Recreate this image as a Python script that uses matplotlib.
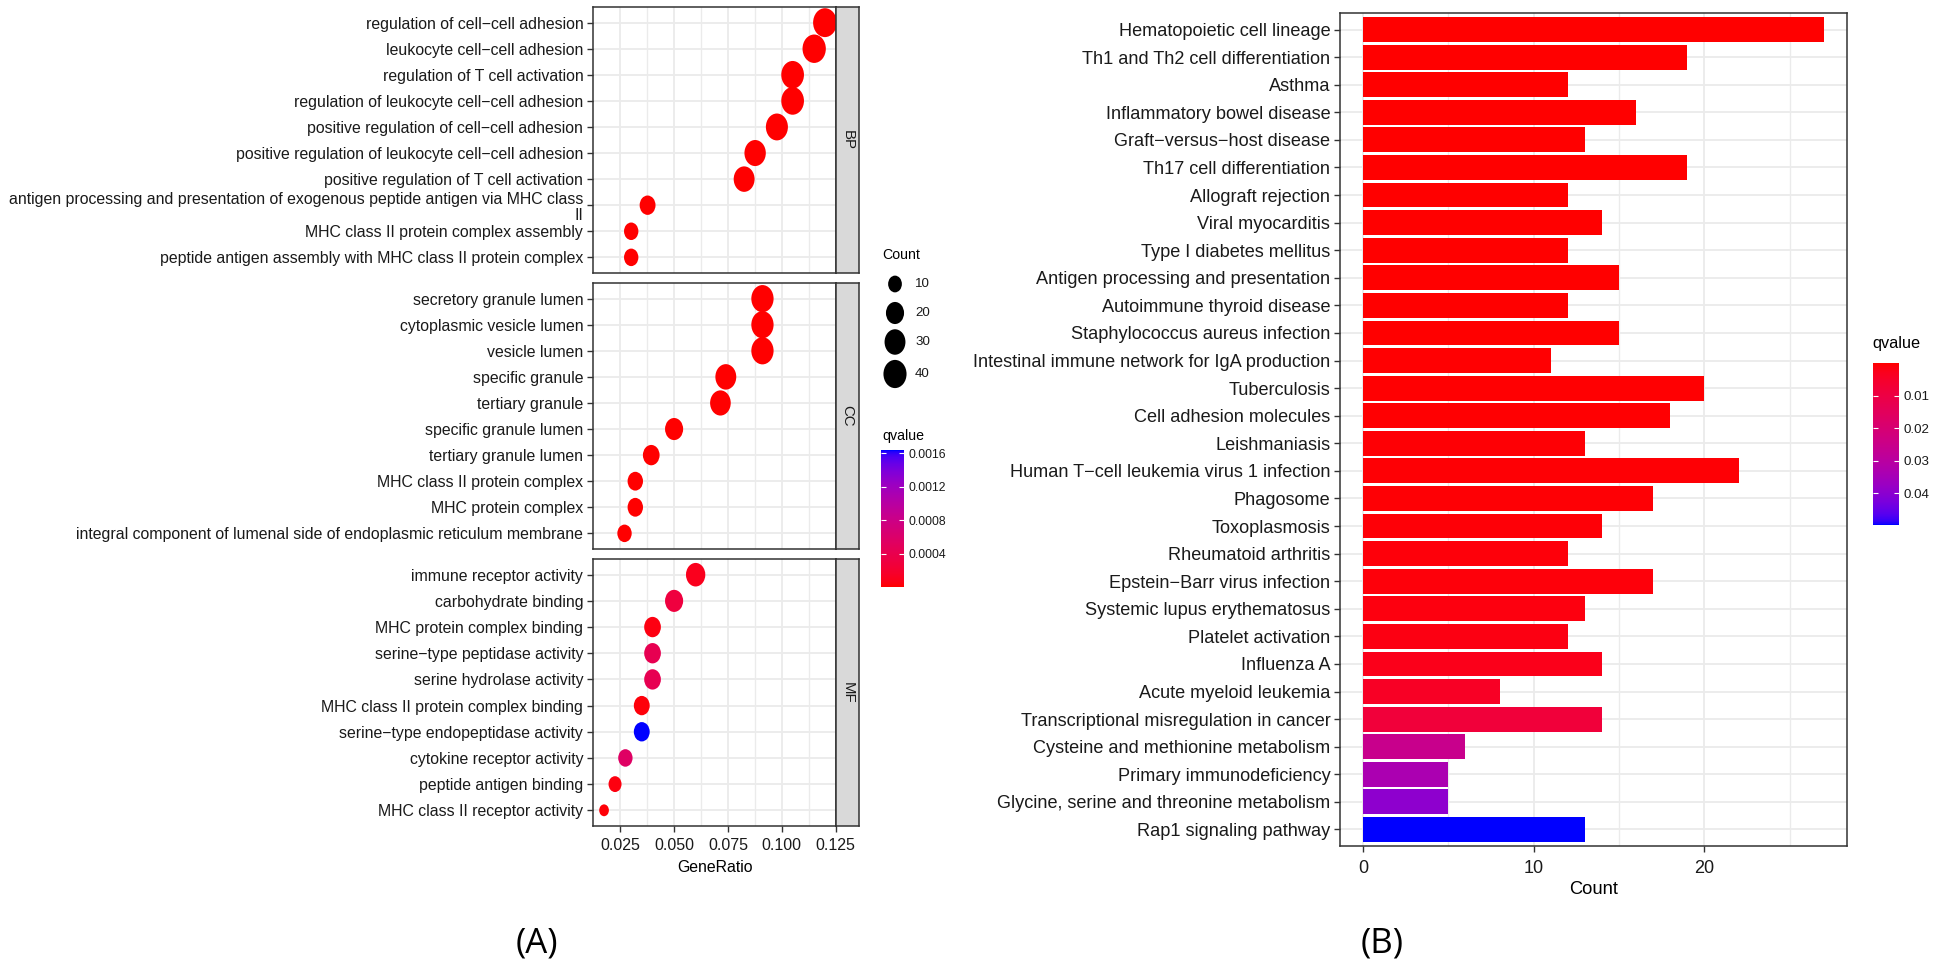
import numpy as np
import matplotlib
matplotlib.use("Agg")
import matplotlib.pyplot as plt
from matplotlib import font_manager
from matplotlib.path import Path
from matplotlib.markers import MarkerStyle
from matplotlib.transforms import Affine2D
from matplotlib.colors import ListedColormap, Normalize

# the source figure is squeezed sideways, a narrow face gets closer to it
_names = {f.name for f in font_manager.fontManager.ttflist}
if 'Liberation Sans Narrow' in _names:
    FAM, K = 'Liberation Sans Narrow', 1 / 0.82
else:
    FAM, K = 'Liberation Sans', 1.0
plt.rcParams['font.family'] = [FAM, 'DejaVu Sans']

# ---------------- panel A: GO dot plot ----------------
bp_terms = ["regulation of cell\u2212cell adhesion",
            "leukocyte cell\u2212cell adhesion",
            "regulation of T cell activation",
            "regulation of leukocyte cell\u2212cell adhesion",
            "positive regulation of cell\u2212cell adhesion",
            "positive regulation of leukocyte cell\u2212cell adhesion",
            "positive regulation of T cell activation",
            "antigen processing and presentation of exogenous peptide antigen via MHC class\nII",
            "MHC class II protein complex assembly",
            "peptide antigen assembly with MHC class II protein complex"]
bp_ratio = [0.120, 0.115, 0.105, 0.105, 0.0977, 0.0876, 0.0825, 0.0377, 0.0301, 0.0301]
bp_count = [43, 41, 38, 38, 35, 32, 30, 14, 11, 11]
bp_q = [1e-9, 1e-9, 2e-9, 2e-9, 5e-9, 1e-8, 2e-8, 1e-6, 2e-6, 2e-6]

cc_terms = ["secretory granule lumen",
            "cytoplasmic vesicle lumen",
            "vesicle lumen",
            "specific granule",
            "tertiary granule",
            "specific granule lumen",
            "tertiary granule lumen",
            "MHC class II protein complex",
            "MHC protein complex",
            "integral component of lumenal side of endoplasmic reticulum membrane"]
cc_ratio = [0.091, 0.091, 0.091, 0.074, 0.0715, 0.050, 0.0394, 0.032, 0.032, 0.027]
cc_count = [36, 36, 36, 30, 29, 20, 16, 13, 13, 11]
cc_q = [1e-9, 1e-9, 1e-9, 1e-8, 1e-8, 1e-6, 2e-6, 1e-6, 2e-6, 5e-6]

mf_terms = ["immune receptor activity",
            "carbohydrate binding",
            "MHC protein complex binding",
            "serine\u2212type peptidase activity",
            "serine hydrolase activity",
            "MHC class II protein complex binding",
            "serine\u2212type endopeptidase activity",
            "cytokine receptor activity",
            "peptide antigen binding",
            "MHC class II receptor activity"]
mf_ratio = [0.060, 0.050, 0.040, 0.040, 0.040, 0.035, 0.035, 0.0274, 0.0226, 0.0175]
mf_count = [24, 20, 16, 16, 16, 14, 14, 11, 9, 7]
mf_q = [0.0001, 0.0003, 0.00005, 0.00042, 0.00042, 0.00003, 0.00164, 0.00055, 0.00004, 0.00002]

ontologies = ["BP", "CC", "MF"]
legend_counts = [10, 20, 30, 40]
qa_ticks = [0.0004, 0.0008, 0.0012, 0.0016]
ratio_ticks = [0.025, 0.050, 0.075, 0.100, 0.125]

# ---------------- panel B: KEGG bar plot ----------------
kegg_terms = ["Hematopoietic cell lineage", "Th1 and Th2 cell differentiation", "Asthma",
              "Inflammatory bowel disease", "Graft\u2212versus\u2212host disease",
              "Th17 cell differentiation", "Allograft rejection", "Viral myocarditis",
              "Type I diabetes mellitus", "Antigen processing and presentation",
              "Autoimmune thyroid disease", "Staphylococcus aureus infection",
              "Intestinal immune network for IgA production", "Tuberculosis",
              "Cell adhesion molecules", "Leishmaniasis",
              "Human T\u2212cell leukemia virus 1 infection", "Phagosome", "Toxoplasmosis",
              "Rheumatoid arthritis", "Epstein\u2212Barr virus infection",
              "Systemic lupus erythematosus", "Platelet activation", "Influenza A",
              "Acute myeloid leukemia", "Transcriptional misregulation in cancer",
              "Cysteine and methionine metabolism", "Primary immunodeficiency",
              "Glycine, serine and threonine metabolism", "Rap1 signaling pathway"]
kegg_count = [27, 19, 12, 16, 13, 19, 12, 14, 12, 15, 12, 15, 11, 20, 18, 13, 22,
              17, 14, 12, 17, 13, 12, 14, 8, 14, 6, 5, 5, 13]
kegg_q = [1e-6, 2e-6, 5e-6, 1e-5, 1e-5, 2e-5, 3e-5, 5e-5, 6e-5, 8e-5, 1e-4, 1.5e-4,
          2e-4, 2.5e-4, 3e-4, 4e-4, 4e-4, 5e-4, 6e-4, 8e-4, 9e-4, 1.2e-3, 1.6e-3,
          2.6e-3, 4.2e-3, 8e-3, 0.0255, 0.0335, 0.0395, 0.0498]
qb_ticks = [0.01, 0.02, 0.03, 0.04]
count_ticks = [0, 10, 20]


# red -> blue ramp interpolated in CIELAB (like ggplot's gradient)
M = np.array([[0.4124, 0.3576, 0.1805], [0.2126, 0.7152, 0.0722], [0.0193, 0.1192, 0.9505]])
WHITE = np.array([0.95047, 1.0, 1.08883])


def to_lab(rgb):
    rgb = np.asarray(rgb, float)
    lin = np.where(rgb <= 0.04045, rgb / 12.92, ((rgb + 0.055) / 1.055) ** 2.4)
    xyz = M @ lin / WHITE
    f = np.where(xyz > 0.008856, np.cbrt(xyz), 7.787 * xyz + 16 / 116)
    return np.array([116 * f[1] - 16, 500 * (f[0] - f[1]), 200 * (f[1] - f[2])])


def from_lab(lab):
    L, a, b = lab
    fy = (L + 16) / 116
    f = np.stack([fy + a / 500, fy, fy - b / 200])
    xyz = np.where(f > 0.2069, f ** 3, (f - 16 / 116) / 7.787) * WHITE[:, None]
    lin = np.clip(np.linalg.inv(M) @ xyz, 0, 1)
    rgb = np.where(lin <= 0.0031308, 12.92 * lin, 1.055 * lin ** (1 / 2.4) - 0.055)
    return np.clip(rgb.T, 0, 1)


t = np.linspace(0, 1, 256)
lab_r, lab_b = to_lab([1, 0, 0]), to_lab([0, 0, 1])
ramp = from_lab(lab_r[:, None] * (1 - t) + lab_b[:, None] * t)
cmap = ListedColormap(ramp)

W, H = 1944, 965
fig = plt.figure(figsize=(W / 100, H / 100), dpi=100)


def box(x0, y0, x1, y1):
    return [x0 / W, 1 - y1 / H, (x1 - x0) / W, (y1 - y0) / H]


# ellipse marker (the source image is stretched vertically)
ellipse = MarkerStyle(Path.unit_circle().transformed(Affine2D().scale(1 / 1.22, 1)))
all_counts = bp_count + cc_count + mf_count
cmin, cmax = min(all_counts), max(all_counts)


def marker_area(c):
    c = np.asarray(c, float)
    w = 9.7 + 14.0 * np.sqrt((c - cmin) / (cmax - cmin))
    h = w * 1.22
    return (h * 0.72) ** 2


all_q = bp_q + cc_q + mf_q
norm_a = Normalize(min(all_q), max(all_q))
all_ratio = bp_ratio + cc_ratio + mf_ratio
rlo, rhi = min(all_ratio), max(all_ratio)
rpad = 0.05 * (rhi - rlo)
minor_r = [0.0375, 0.0625, 0.0875, 0.1125]

grid_col = '#EBEBEB'
edge_col = '#333333'
txt_col = '#1A1A1A'

panels = [(bp_terms, bp_ratio, bp_count, bp_q, 7, 273),
          (cc_terms, cc_ratio, cc_count, cc_q, 283, 549),
          (mf_terms, mf_ratio, mf_count, mf_q, 559, 826)]

for k, (terms, ratio, count, q, y0, y1) in enumerate(panels):
    ax = fig.add_axes(box(593, y0, 836, y1))
    yy = np.arange(len(terms))
    ax.scatter(ratio, yy, s=marker_area(count), c=q, cmap=cmap, norm=norm_a,
               marker=ellipse, linewidths=0, zorder=3)
    ax.set_xlim(rlo - rpad, rhi + rpad)
    ax.set_ylim(len(terms) - 0.4, -0.6)
    ax.set_yticks(yy)
    ax.set_yticklabels(terms, fontsize=11.4 * K, color=txt_col, linespacing=1.1)
    ax.set_xticks(ratio_ticks)
    ax.set_xticks(minor_r, minor=True)
    ax.grid(which='major', color=grid_col, lw=1.3, zorder=0)
    ax.grid(which='minor', axis='x', color=grid_col, lw=1.0, zorder=0)
    ax.set_axisbelow(True)
    for s in ax.spines.values():
        s.set_color(edge_col)
        s.set_linewidth(1.1)
    ax.tick_params(which='major', length=4, width=1, color=edge_col, pad=3)
    ax.tick_params(which='minor', length=0)
    if k < 2:
        ax.tick_params(axis='x', bottom=False, labelbottom=False)
    else:
        ax.tick_params(axis='x', pad=5)
        ax.set_xticklabels([f"{v:.3f}" for v in ratio_ticks], fontsize=11.5 * K, color=txt_col)
        ax.set_xlabel("GeneRatio", fontsize=11.4 * K, color='black', labelpad=5)

    sax = fig.add_axes(box(836, y0, 859, y1))
    sax.set_facecolor('#D9D9D9')
    sax.set_xticks([])
    sax.set_yticks([])
    for s in sax.spines.values():
        s.set_color(edge_col)
        s.set_linewidth(1.1)
    sax.text(0.5, 0.5, ontologies[k], rotation=-90, ha='center', va='center',
             fontsize=10.8, color='#1A1A1A', transform=sax.transAxes,
             family=['Liberation Sans', 'DejaVu Sans'])

# Count legend (size)
fig.text(882 / W, 1 - 255 / H, "Count", fontsize=10.2 * K, ha='left', va='center')
lax = fig.add_axes(box(870, 268, 960, 392))
lax.set_xlim(870, 960)
lax.set_ylim(392, 268)
lax.axis('off')
leg_y = [284, 313, 342, 374]
lax.scatter([895] * len(legend_counts), leg_y, s=marker_area(legend_counts),
            color='black', marker=ellipse, linewidths=0)
for c, yv in zip(legend_counts, leg_y):
    lax.text(915, yv, str(c), fontsize=9.6 * K, ha='left', va='center', color=txt_col)

# qvalue colour bar for A
fig.text(882 / W, 1 - 436 / H, "qvalue", fontsize=10.2 * K, ha='left', va='center')
cax_a = fig.add_axes(box(881, 450, 904, 587))
cb_a = fig.colorbar(plt.cm.ScalarMappable(norm=norm_a, cmap=cmap), cax=cax_a, ticks=qa_ticks)
cb_a.outline.set_visible(False)
cb_a.ax.set_yticklabels([f"{v:.4f}" for v in qa_ticks], fontsize=8.8 * K, color=txt_col)
cb_a.ax.tick_params(length=0, pad=3)
tr = cax_a.get_yaxis_transform()
cax_a.hlines(qa_ticks, 0, 0.2, colors='white', lw=0.8, transform=tr)
cax_a.hlines(qa_ticks, 0.8, 1, colors='white', lw=0.8, transform=tr)

# ---------------- panel B ----------------
axb = fig.add_axes(box(1340, 13, 1847, 846))
norm_b = Normalize(min(kegg_q), max(kegg_q))
yb = np.arange(len(kegg_terms))
axb.barh(yb, kegg_count, height=0.9, color=cmap(norm_b(np.array(kegg_q))), zorder=3)
cpad = 0.05 * max(kegg_count)
axb.set_xlim(-cpad, max(kegg_count) + cpad)
axb.set_ylim(len(kegg_terms) - 0.4, -0.6)
axb.set_yticks(yb)
axb.set_yticklabels(kegg_terms, fontsize=13.1 * K, color=txt_col)
axb.set_xticks(count_ticks)
axb.set_xticks([5, 15, 25], minor=True)
axb.set_xticklabels([str(v) for v in count_ticks], fontsize=13 * K, color=txt_col)
axb.grid(which='major', color=grid_col, lw=1.3, zorder=0)
axb.grid(which='minor', axis='x', color=grid_col, lw=1.0, zorder=0)
axb.set_axisbelow(True)
for s in axb.spines.values():
    s.set_color(edge_col)
    s.set_linewidth(1.1)
axb.tick_params(which='major', length=4, width=1, color=edge_col, pad=3)
axb.tick_params(axis='x', pad=6)
axb.tick_params(which='minor', length=0)
axb.set_xlabel("Count", fontsize=13.2 * K, color='black', labelpad=3)

fig.text(1872 / W, 1 - 343 / H, "qvalue", fontsize=11.7 * K, ha='left', va='center')
cax_b = fig.add_axes(box(1873, 363, 1899, 525))
cb_b = fig.colorbar(plt.cm.ScalarMappable(norm=norm_b, cmap=cmap), cax=cax_b, ticks=qb_ticks)
cb_b.outline.set_visible(False)
cax_b.invert_yaxis()
cb_b.ax.set_yticklabels([f"{v:.2f}" for v in qb_ticks], fontsize=9.6 * K, color=txt_col)
cb_b.ax.tick_params(length=0, pad=3)
trb = cax_b.get_yaxis_transform()
cax_b.hlines(qb_ticks, 0, 0.2, colors='white', lw=0.8, transform=trb)
cax_b.hlines(qb_ticks, 0.8, 1, colors='white', lw=0.8, transform=trb)

# panel letters
fig.text(537 / W, 1 - 943 / H, "(A)", fontsize=25, ha='center', va='center',
         family=['Open Sans', 'DejaVu Sans'])
fig.text(1382 / W, 1 - 943 / H, "(B)", fontsize=25, ha='center', va='center',
         family=['Open Sans', 'DejaVu Sans'])

fig.savefig("out.png", dpi=100, facecolor='white')
